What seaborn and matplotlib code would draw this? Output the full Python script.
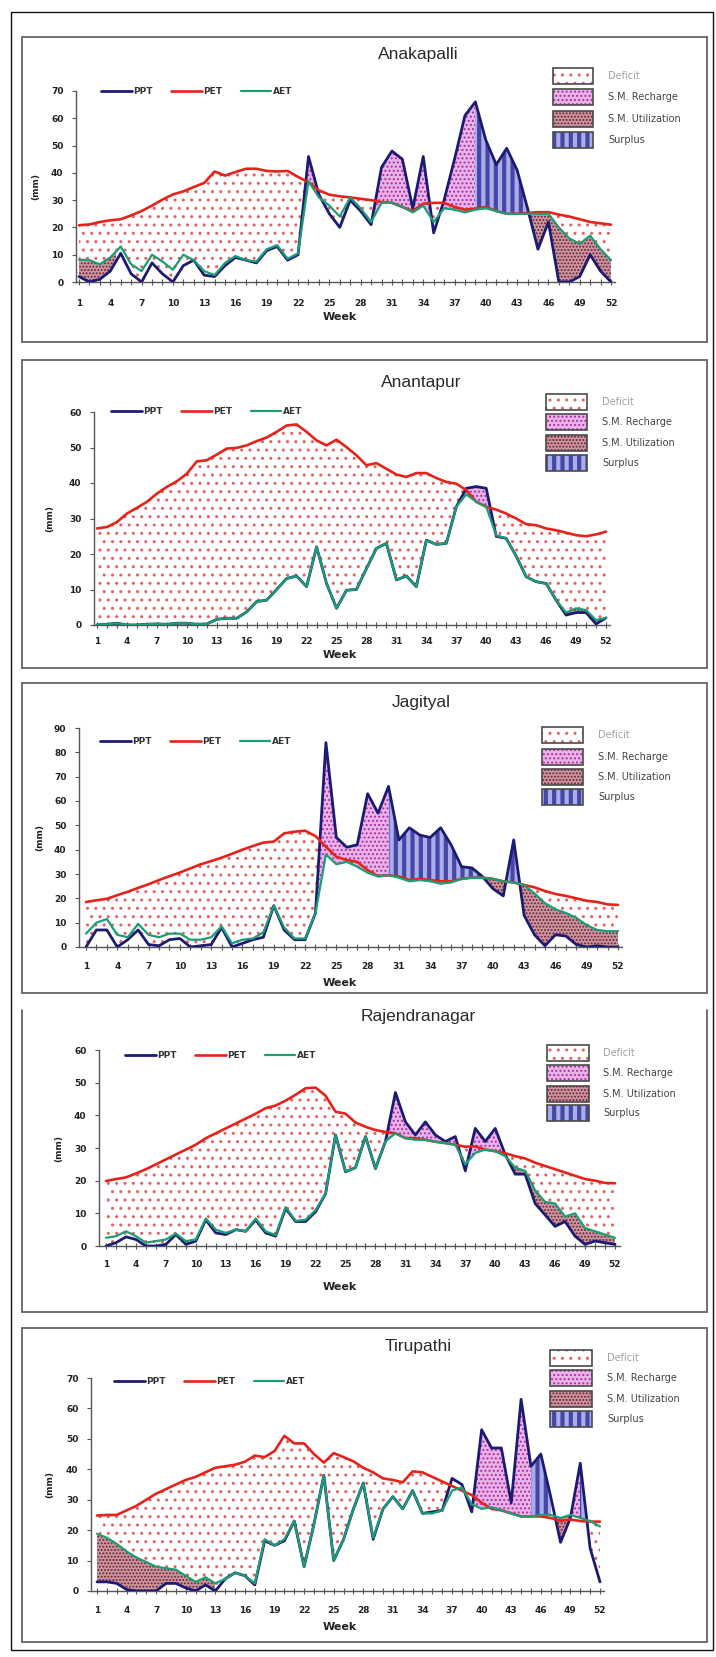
import numpy as np
import pandas as pd
import matplotlib
matplotlib.use("Agg")
import matplotlib.pyplot as plt
from matplotlib.patches import Rectangle
from matplotlib.lines import Line2D
import seaborn as sns

sns.set_theme(style="white")
plt.rcParams["font.family"] = ["DejaVu Sans"]
plt.rcParams["hatch.linewidth"] = 0.9

# ---------------------------------------------------------------- data
weeks = list(range(1, 53))
xtick_weeks = list(range(1, 53, 3))
series_names = ["PPT", "PET", "AET"]
zone_names = ["Deficit", "S.M. Recharge", "S.M. Utilization", "Surplus"]
stations = ["Anakapalli", "Anantapur", "Jagityal", "Rajendranagar", "Tirupathi"]
y_max = [70, 60, 90, 60, 70]

anakapalli_ppt = [2, 0, 1, 4, 10.5, 3, 0, 7, 3, 0, 6, 8, 2.5, 2, 6, 9, 8, 7, 11.5, 13,
                  8, 10, 46, 32, 25, 20, 30, 26, 21, 42, 48, 45, 27, 46, 18, 30, 45, 61, 66, 52,
                  43, 49, 41, 27, 12, 22, 0, 0, 2, 10, 4, 0]
anakapalli_pet = [20.8, 21.1, 22, 22.6, 23, 24.4, 26, 28, 30.2, 32.1, 33.2, 34.8, 36.3, 40.5, 39, 40.3,
                  41.5, 41.5, 40.7, 40.5, 40.7, 38.5, 36.6, 33.6, 32, 31.4, 31, 30.5, 30, 29.3, 29, 27.5,
                  26, 28.7, 29, 29, 27.5, 26.5, 26.9, 27.5, 26, 25, 25, 25.3, 25.6, 25.6, 24.7, 24,
                  23, 22, 21.5, 21]
anakapalli_aet = [8.2, 8, 6.5, 9, 13, 6.5, 4, 10, 7.5, 4.5, 10, 8, 4, 2.5, 7, 9.5, 8, 7.5, 12, 13.5,
                  8.5, 10.5, 37, 31, 28, 24, 31, 27, 22, 29, 29, 27.5, 25.5, 28, 22, 27, 26.5, 25.5,
                  26.5, 27, 26, 25, 25, 25, 25, 25, 20, 16, 14, 17, 12, 8]

anantapur_ppt = [0, 0.2, 0.5, 0, 0, 0.2, 0.3, 0.2, 0.5, 0.5, 0.2, 0.3, 1.6, 1.9, 1.9, 3.7, 6.6, 7, 10,
                 13.1, 13.8, 10.8, 22, 11.7, 4.7, 9.8, 10, 15.9, 21.6, 23, 12.7, 13.8, 10.8, 23.9,
                 22.7, 23, 33.3, 38.5, 39, 38.5, 25, 24.4, 19.4, 13.6, 12.2, 11.7, 7, 2.8, 3.5, 3.5,
                 0.3, 2]
anantapur_pet = [27.2, 27.6, 29, 31.4, 33, 34.7, 37, 38.9, 40.5, 42.6, 46.1, 46.4, 48, 49.7, 49.9, 50.6,
                 51.8, 52.8, 54.4, 56.2, 56.5, 54.4, 52, 50.6, 52.2, 50.1, 47.8, 45, 45.6, 44, 42.4,
                 41.7, 42.8, 42.8, 41.4, 40.3, 39.8, 38, 34.7, 33.3, 32.5, 31.4, 30, 28.4, 28.1, 27.2,
                 26.7, 26, 25.3, 25, 25.5, 26.3]
anantapur_aet = [0, 0.2, 0.5, 0, 0, 0.2, 0.3, 0.2, 0.5, 0.5, 0.2, 0.3, 1.6, 1.9, 1.9, 3.7, 6.6, 7, 10,
                 13.1, 13.8, 10.8, 22, 11.7, 4.7, 9.8, 10, 15.9, 21.6, 23, 12.7, 13.8, 10.8, 23.9,
                 22.7, 23, 33.3, 36.8, 34.7, 33.3, 25.3, 24.4, 19.4, 13.6, 12.2, 11.7, 7, 3.5, 4.7,
                 4.2, 1.4, 2]

jagityal_ppt = [0, 7, 7, 0, 3, 7, 1, 0.5, 3, 3.5, 0, 0.5, 1, 8, 0, 1.5, 3, 4, 17, 7, 3, 3, 14, 84,
                45, 41, 42, 63, 55, 66, 44, 49, 46, 45, 49, 42, 33, 32.5, 29, 24, 21, 44, 13, 5, 0.5,
                5, 4.5, 1, 0, 0.5, 0, 0]
jagityal_pet = [18.5, 19.2, 19.8, 21.3, 22.7, 24.3, 25.8, 27.5, 29.1, 30.6, 32.3, 34, 35.3, 36.7, 38.3,
                40, 41.5, 42.9, 43.3, 46.7, 47.4, 47.8, 45.6, 41.2, 37.1, 35.7, 35, 31.6, 29.1, 29.5,
                29, 27.5, 28, 27.5, 27, 27, 28, 28.5, 28.5, 28, 27, 26.5, 25.5, 24.5, 23, 21.8, 21,
                20, 19, 18.5, 17.5, 17.3]
jagityal_aet = [5.5, 10, 11.5, 5, 4, 9.5, 5, 4, 5.5, 5.5, 3, 3, 4, 8.5, 1.5, 3, 3.5, 6, 17, 8, 3.5,
                3.5, 14, 38, 34, 35, 33, 30.5, 29, 29.5, 28.5, 27, 27.5, 27, 26, 26.5, 28, 28.5, 28.5,
                28, 27, 26.5, 25.5, 22, 18, 15.5, 14, 12, 9, 7, 6.5, 6.5]

rajendranagar_ppt = [0, 1, 2.8, 2, 0, 0, 0.5, 3.5, 0.5, 1.5, 8, 4, 3.5, 5, 4.5, 8, 4, 3, 11.5, 7.5,
                     7.5, 10.5, 16, 34, 22.7, 24, 33.5, 23.7, 32, 47, 38, 34, 38, 34, 32, 33.5, 23, 36,
                     32, 36, 28, 22, 22, 13, 9.5, 6, 7.5, 3, 0.5, 1.5, 1, 0.5]
rajendranagar_pet = [19.9, 20.5, 21, 22.2, 23.5, 25, 26.5, 28, 29.5, 31, 33, 34.5, 36, 37.5, 39, 40.5,
                     42.2, 43, 44.5, 46.3, 48.3, 48.5, 46, 41.1, 40.5, 37.8, 36.5, 35.5, 34.9, 34.5,
                     33, 33, 32.5, 31.9, 31.5, 31, 30.4, 30.5, 29.5, 29, 28.4, 27.5, 26.8, 25.5, 24.5,
                     23.5, 22.5, 21.5, 20.5, 20, 19.3, 19.2]
rajendranagar_aet = [2.5, 3, 4.5, 3, 1, 1.5, 2, 3.8, 1.5, 2, 8.4, 5, 4, 5, 4.5, 8.4, 4.5, 3.3, 11.9,
                     7.7, 8, 11, 16, 34, 22.7, 24, 33.5, 23.7, 32, 34.5, 33, 32.5, 32.5, 31.9, 31.5, 31,
                     25, 28.5, 29.5, 29, 27.5, 24, 23, 17, 13.5, 13, 9, 10, 5.5, 4.5, 3.5, 2.5]

tirupathi_ppt = [3, 3, 2.5, 0.5, 0, 0, 0, 2.5, 2.5, 1, 0, 2, 0, 4, 6, 5, 2, 16.5, 15, 16.5, 23, 8,
                 22, 38, 10, 17, 27, 35.5, 17, 27, 31, 27, 33, 25.5, 26, 26.5, 37, 35, 26, 53, 47,
                 47, 29, 63, 41, 45, 31, 16, 24, 42, 14, 3]
tirupathi_pet = [24.8, 25, 25, 26.5, 28, 30, 32, 33.5, 35, 36.5, 37.5, 39, 40.5, 41, 41.5, 42.5, 44.5,
                 44, 46, 51, 48.5, 48.5, 45, 42.2, 45.3, 44, 42.6, 40.5, 39, 37, 36.5, 35.7, 39.3, 39,
                 37.5, 36, 34.5, 33, 31.5, 29, 27, 26.5, 25.5, 24.5, 24.5, 24.5, 24, 23, 23.5, 23,
                 22.8, 22.8]
tirupathi_aet = [18.8, 17.5, 15.5, 13, 11, 9.5, 8, 7.5, 7, 5, 3, 4.5, 2.5, 4, 6, 5, 2.5, 17, 15, 17,
                 23, 8, 22, 38, 10, 17, 27, 35.5, 17.5, 27, 31, 27, 33, 25.5, 25.5, 26.5, 33, 34,
                 28.5, 27, 27.5, 26.5, 25.5, 24.5, 24.5, 25, 25, 24, 25, 24, 23, 21.2]

# week spans of each water-balance zone
recharge_spans = [[(22, 39)], [(37, 41)], [(23, 30)], [(29, 41)], [(39, 45), (48, 50)]]
surplus_spans = [[(39, 45)], [], [(30, 39), (41, 43)], [], [(45, 47), (50, 51)]]
utilization_spans = [[(0, 4.5), (44, 53)], [(46, 53)], [(38, 53)], [(36, 38), (40, 53)],
                     [(0, 13), (47, 49.5)]]

ppt_all = [anakapalli_ppt, anantapur_ppt, jagityal_ppt, rajendranagar_ppt, tirupathi_ppt]
pet_all = [anakapalli_pet, anantapur_pet, jagityal_pet, rajendranagar_pet, tirupathi_pet]
aet_all = [anakapalli_aet, anantapur_aet, jagityal_aet, rajendranagar_aet, tirupathi_aet]

# ---------------------------------------------------------------- layout (pixels)
W, H = 716, 1657
layout = [
    dict(box=(22, 37, 707, 342), top=True, axl=76, w1=79, w52=611, axr=615, y0=282, yt=91,
         title=(418, 55), leg=(101, 92), zx=(553, 593, 608), zr=(76, 97, 119, 140), pad=10, wk=317, yl=36),
    dict(box=(22, 360, 707, 668), top=True, axl=94, w1=97, w52=606, axr=610, y0=625, yt=412,
         title=(421, 382), leg=(111, 412), zx=(546, 587, 602), zr=(402, 422, 443, 463), pad=7, wk=655, yl=50),
    dict(box=(22, 683, 707, 993), top=True, axl=79, w1=86, w52=618, axr=622, y0=947, yt=728,
         title=(421, 703), leg=(100, 742), zx=(542, 583, 598), zr=(735, 757, 777, 797), pad=9, wk=983, yl=40),
    dict(box=(22, 1010, 707, 1312), top=False, axl=99, w1=106, w52=615, axr=620, y0=1246, yt=1050,
         title=(418, 1017), leg=(125, 1056), zx=(547, 589, 603), zr=(1053, 1073, 1094, 1113), pad=8, wk=1287, yl=59),
    dict(box=(22, 1328, 707, 1642), top=True, axl=91, w1=97, w52=600, axr=604, y0=1591, yt=1378,
         title=(418, 1347), leg=(114, 1382), zx=(550, 592, 607), zr=(1358, 1378, 1399, 1419), pad=9, wk=1627, yl=50),
]

LINE_COLORS = {"PPT": "#1b1b74", "PET": "#e5231b", "AET": "#1c9e74"}
LINE_WIDTHS = {"PPT": 2.0, "PET": 1.9, "AET": 1.6}
LINE_Z = {"PPT": 3, "PET": 4, "AET": 5}

STYLES = {
    "Deficit": dict(facecolor="none", edgecolor="#e2625e", hatch="..", linewidth=0),
    "S.M. Recharge": dict(facecolor="#eab2e8", edgecolor="#a62ca2", hatch="....", linewidth=0),
    "S.M. Utilization": dict(facecolor="#c9979f", edgecolor="#6e1a30", hatch=".....", linewidth=0),
    "Surplus": dict(facecolor="#a9aee8", edgecolor="#4646a6", hatch="||", linewidth=0),
}
HATCH_LW = {"Deficit": 1.0, "S.M. Recharge": 0.9, "S.M. Utilization": 0.9, "Surplus": 3.0}


def fx(px):
    return px / W


def fy(py):
    return 1 - py / H


def complement(spans, lo=0, hi=53):
    out, cur = [], lo
    for a, b in sorted(spans):
        if a > cur:
            out.append((cur, a))
        cur = max(cur, b)
    if cur < hi:
        out.append((cur, hi))
    return out


def zone_fill(ax, x, top, bottom, spans, zone):
    for a, b in spans:
        with plt.rc_context({"hatch.linewidth": HATCH_LW[zone]}):
            coll = ax.fill_between(x, top, bottom, where=top > bottom, interpolate=True,
                                   zorder=1, **STYLES[zone])
        if hasattr(coll, "set_hatch_linewidth"):
            coll.set_hatch_linewidth(HATCH_LW[zone])
        clip = Rectangle((a, -50), b - a, 500, transform=ax.transData)
        coll.set_clip_path(clip)


fig = plt.figure(figsize=(W / 100, H / 100), dpi=100)

# outer frame
fig.add_artist(Rectangle((fx(11), fy(1650)), (713 - 11) / W, (1650 - 12) / H, transform=fig.transFigure,
                         fill=False, edgecolor="#111111", linewidth=1.0))

for i, name in enumerate(stations):
    L = layout[i]
    x = np.array(weeks, dtype=float)
    ppt = np.array(ppt_all[i], dtype=float)
    pet = np.array(pet_all[i], dtype=float)
    aet = np.array(aet_all[i], dtype=float)

    # panel frame
    bx0, by0, bx1, by1 = L["box"]
    kw = dict(transform=fig.transFigure, color="#666666", linewidth=1.3)
    fig.add_artist(Line2D([fx(bx0), fx(bx0)], [fy(by0), fy(by1)], **kw))
    fig.add_artist(Line2D([fx(bx1), fx(bx1)], [fy(by0), fy(by1)], **kw))
    fig.add_artist(Line2D([fx(bx0), fx(bx1)], [fy(by1), fy(by1)], **kw))
    if L["top"]:
        fig.add_artist(Line2D([fx(bx0), fx(bx1)], [fy(by0), fy(by0)], **kw))

    ax = fig.add_axes([fx(L["axl"]), fy(L["y0"]), (L["axr"] - L["axl"]) / W, (L["y0"] - L["yt"]) / H])
    ax.patch.set_alpha(0)
    pxw = (L["w52"] - L["w1"]) / 51.0
    ax.set_xlim(1 - (L["w1"] - L["axl"]) / pxw, 52 + (L["axr"] - L["w52"]) / pxw)
    ax.set_ylim(0, y_max[i])

    # water balance zones
    zone_fill(ax, x, pet, aet, [(0, 53)], "Deficit")
    zone_fill(ax, x, aet, ppt, complement(utilization_spans[i]), "Deficit")
    zone_fill(ax, x, aet, ppt, utilization_spans[i], "S.M. Utilization")
    zone_fill(ax, x, ppt, aet, recharge_spans[i], "S.M. Recharge")
    zone_fill(ax, x, ppt, aet, surplus_spans[i], "Surplus")

    df = pd.DataFrame({"Week": weeks, "PPT": ppt, "PET": pet, "AET": aet})
    for s in series_names:
        sns.lineplot(data=df, x="Week", y=s, ax=ax, color=LINE_COLORS[s], linewidth=LINE_WIDTHS[s],
                     label=s, zorder=LINE_Z[s], legend=False)

    # axes styling
    for side in ["top", "right"]:
        ax.spines[side].set_visible(False)
    for side in ["left", "bottom"]:
        ax.spines[side].set_color("#555555")
        ax.spines[side].set_linewidth(1.0)
    ax.set_xticks(weeks)
    ax.set_xticklabels([str(w) if w in xtick_weeks else "" for w in weeks],
                       fontsize=6.5, fontweight="bold", color="#222222")
    yt = list(range(0, y_max[i] + 1, 10))
    ax.set_yticks(yt)
    ax.set_yticklabels([str(v) for v in yt], fontsize=6.5, fontweight="bold", color="#222222")
    ax.tick_params(axis="x", bottom=True, length=4, width=0.8, direction="inout",
                   pad=L["pad"], color="#555555")
    ax.tick_params(axis="y", left=True, length=3, width=0.8, direction="out", pad=6, color="#555555")
    ax.grid(False)

    axw = L["axr"] - L["axl"]
    axh = L["y0"] - L["yt"]
    ax.set_xlabel("Week", fontsize=8, fontweight="bold", color="#222222")
    ax.xaxis.label.set_va("center")
    ax.xaxis.set_label_coords((340 - L["axl"]) / axw, -(L["wk"] - L["y0"]) / axh)
    ax.set_ylabel("(mm)", fontsize=6.5, fontweight="bold", color="#222222")
    ax.yaxis.label.set_va("center")
    ax.yaxis.set_label_coords((L["yl"] - L["axl"]) / axw, 0.5)

    # series legend
    ax.legend(loc="center left", bbox_to_anchor=(fx(L["leg"][0]), fy(L["leg"][1])),
              bbox_transform=fig.transFigure, ncol=3, frameon=False,
              prop=dict(size=6.5, weight="bold"), handlelength=3.4, handletextpad=0.2,
              columnspacing=2.0, borderpad=0, borderaxespad=0, labelcolor="#333333")

    # title
    fig.text(fx(L["title"][0]), fy(L["title"][1]), name, ha="center", va="center",
             fontsize=12.5, family=["Liberation Sans", "DejaVu Sans"], fontweight="normal",
             color="#2a2a2a")

    # zone legend
    zx0, zx1, tx = L["zx"]
    for zone, ry in zip(zone_names, L["zr"]):
        hgt = 16
        with plt.rc_context({"hatch.linewidth": HATCH_LW[zone]}):
            st = dict(STYLES[zone])
            if zone == "Deficit":
                st["facecolor"] = "white"
            sw = Rectangle((fx(zx0), fy(ry + hgt / 2)), (zx1 - zx0) / W, hgt / H,
                           transform=fig.transFigure, **st)
        if hasattr(sw, "set_hatch_linewidth"):
            sw.set_hatch_linewidth(HATCH_LW[zone])
        fig.add_artist(sw)
        fig.add_artist(Rectangle((fx(zx0), fy(ry + hgt / 2)), (zx1 - zx0) / W, hgt / H,
                                 transform=fig.transFigure, fill=False, edgecolor="#4a4a4a",
                                 linewidth=1.2))
        fig.text(fx(tx), fy(ry), zone, ha="left", va="center", fontsize=7,
                 color="#a0a0a0" if zone == "Deficit" else "#444444")

fig.savefig("out.png", dpi=100)
